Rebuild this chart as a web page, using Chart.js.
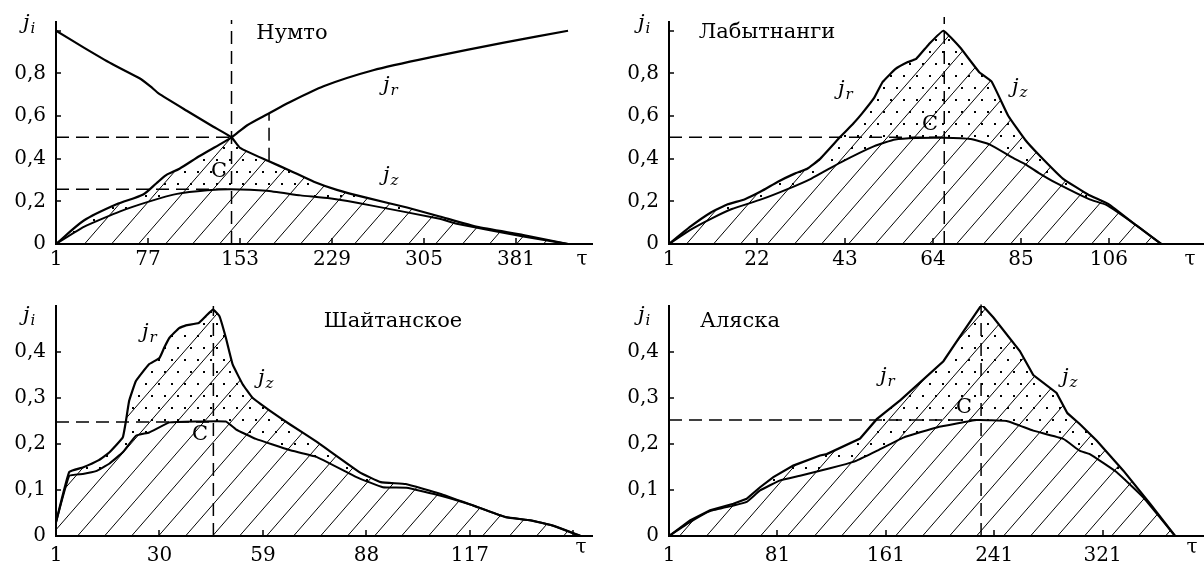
<!DOCTYPE html>
<html>
<head>
<meta charset="utf-8">
<script src="https://cdn.jsdelivr.net/npm/chart.js@4/dist/chart.umd.min.js"></script>
<style>
  body { margin: 0; background: #fff; }
  #wrap { position: relative; width: 1204px; height: 568px; }
  #wrap canvas { position: absolute; }
</style>
</head>
<body>
<div id="wrap">
  <canvas id="numto" width="602" height="284" style="left:0;top:0"></canvas>
  <canvas id="labyt" width="602" height="284" style="left:602px;top:0"></canvas>
  <canvas id="shait" width="602" height="284" style="left:0;top:284px"></canvas>
  <canvas id="alaska" width="602" height="284" style="left:602px;top:284px"></canvas>
</div>
<script>
//Нумто
var numtoTauR = [1, 24, 51, 73, 84, 92, 103, 120, 136, 146, 159, 176, 194, 222, 263, 310, 371, 424];
var numtoJr = [0, 0.11, 0.186, 0.232, 0.285, 0.323, 0.353, 0.414, 0.466, 0.5, 0.557, 0.61, 0.665, 0.74, 0.815, 0.875, 0.944, 1.0];
var numtoTauZ = [1, 24, 47, 70, 79, 86, 109, 131, 146, 153, 176, 194, 214, 233, 258, 291, 318, 349, 387, 424];
var numtoJz = [1.0, 0.921, 0.845, 0.777, 0.739, 0.705, 0.625, 0.55, 0.5, 0.451, 0.39, 0.345, 0.292, 0.254, 0.216, 0.171, 0.129, 0.08, 0.042, 0];
var numtoTauMin = [1, 24, 51, 73, 84, 92, 103, 120, 136, 146, 153, 176, 194, 214, 233, 258, 291, 318, 349, 387, 424];
var numtoJmin = [0, 0.11, 0.186, 0.232, 0.285, 0.323, 0.353, 0.414, 0.466, 0.5, 0.451, 0.39, 0.345, 0.292, 0.254, 0.216, 0.171, 0.129, 0.08, 0.042, 0];
var numtoTauC = [1, 24, 54, 79, 101, 126, 145, 175, 203, 227, 262, 318, 332, 387, 424];
var numtoJc = [0, 0.08, 0.153, 0.201, 0.235, 0.252, 0.257, 0.25, 0.228, 0.214, 0.18, 0.118, 0.095, 0.035, 0];
var numtoCross = {tau: 146, j: 0.5, jc: 0.257, tauC: 142, tauMark: 177, markLo: 0.39, markHi: 0.61};
var numtoXTicks = [1, 77, 153, 229, 305, 381];

//Лабытнанги
var labTau = [1, 6, 11, 15, 19, 23, 27, 31, 34, 37, 42, 45, 47, 50, 52, 55, 58, 60, 63, 66.5, 70.5, 75, 78, 82, 86, 89.5, 95, 101, 106, 112.5, 118.5];
var labUp = [0, 0.08, 0.148, 0.186, 0.209, 0.247, 0.292, 0.33, 0.353, 0.398, 0.505, 0.565, 0.61, 0.686, 0.76, 0.82, 0.853, 0.868, 0.936, 1.0, 0.921, 0.807, 0.762, 0.6, 0.489, 0.414, 0.307, 0.232, 0.186, 0.088, 0];
var labTauLo = [1, 6, 11, 16, 23, 29, 35, 42, 50, 55, 60, 66.5, 73, 77.6, 83, 86, 89.5, 93.5, 101.4, 105.4, 112.5, 118.5];
var labLo = [0, 0.065, 0.118, 0.164, 0.209, 0.255, 0.307, 0.383, 0.459, 0.49, 0.497, 0.498, 0.492, 0.466, 0.405, 0.375, 0.33, 0.285, 0.209, 0.183, 0.088, 0];
var labCross = {tau: 66.7, j: 0.5, top: 1.065};
var labXTicks = [1, 22, 43, 64, 85, 106];

//Шайтанское
var shTau = [1, 4.7, 8.5, 13, 16, 19.7, 20.6, 21.5, 23.4, 27, 30, 31.3, 32.8, 35.5, 37.4, 41, 43, 45, 46.8, 48.6, 50.5, 53.3, 56, 61, 66.5, 74, 86, 92, 99, 108.6, 118, 127, 134, 140, 148];
var shUp = [0.03, 0.139, 0.149, 0.165, 0.182, 0.214, 0.25, 0.294, 0.337, 0.373, 0.387, 0.409, 0.431, 0.452, 0.458, 0.463, 0.478, 0.492, 0.478, 0.431, 0.373, 0.33, 0.301, 0.272, 0.243, 0.205, 0.139, 0.117, 0.113, 0.092, 0.066, 0.041, 0.034, 0.023, 0];
var shTauLo = [1, 4.7, 8.5, 12.2, 15.9, 19.7, 23.4, 27.1, 32.8, 40.2, 48.6, 51.4, 57, 66.4, 74, 85.2, 92.6, 99.2, 108.6, 118, 127, 134, 140, 148];
var shLo = [0.03, 0.131, 0.135, 0.141, 0.157, 0.182, 0.218, 0.225, 0.247, 0.249, 0.249, 0.232, 0.211, 0.187, 0.172, 0.128, 0.106, 0.105, 0.088, 0.066, 0.041, 0.034, 0.023, 0];
var shCross = {tau: 45.1, j: 0.248, top: 0.5};
var shXTicks = [1, 30, 59, 88, 117, 146];

//Аляска
var alTau = [1, 16.5, 31.3, 48.5, 58.3, 68.2, 78, 92.7, 112.4, 117.4, 142, 154.3, 172, 203.5, 218.3, 231.8, 240.4, 259.9, 269.8, 287, 295, 304.3, 316.7, 336.3, 356, 374.5];
var alUp = [0, 0.034, 0.056, 0.07, 0.081, 0.106, 0.128, 0.153, 0.175, 0.178, 0.212, 0.254, 0.296, 0.38, 0.445, 0.503, 0.475, 0.402, 0.35, 0.311, 0.267, 0.243, 0.207, 0.142, 0.07, 0];
var alTauLo = [1, 16.5, 31.3, 48.5, 58.3, 68.2, 83, 97.7, 112.4, 127.2, 139.5, 154.3, 174, 198.6, 228.1, 250.2, 269.8, 292, 304.3, 311.5, 331.2, 350.9, 374.5];
var alLo = [0, 0.03, 0.054, 0.066, 0.074, 0.099, 0.121, 0.131, 0.142, 0.153, 0.164, 0.185, 0.214, 0.236, 0.252, 0.25, 0.229, 0.211, 0.185, 0.178, 0.139, 0.084, 0];
var alCross = {tau: 231.3, j: 0.252, top: 0.503};
var alXTicks = [1, 81, 161, 241, 321];

var yTicksBig = [0, 0.2, 0.4, 0.6, 0.8, 1.0];
var yTicksSmall = [0, 0.1, 0.2, 0.3, 0.4];

Chart.defaults.font.family = '"DejaVu Serif", serif';
Chart.defaults.color = '#000';

//Fill patterns
function makeHatch() {
  var w = 27, h = 31;
  var c = document.createElement('canvas');
  c.width = w; c.height = h;
  var g = c.getContext('2d');
  g.strokeStyle = '#000';
  g.lineWidth = 1;
  for (var k = -1; k <= 1; k++) {
    g.beginPath();
    g.moveTo(0, h + k * h);
    g.lineTo(w, k * h);
    g.stroke();
  }
  return g.createPattern(c, 'repeat');
}

function makeDots() {
  var c = document.createElement('canvas');
  c.width = 13; c.height = 24;
  var g = c.getContext('2d');
  g.fillStyle = '#000';
  g.fillRect(2, 3, 2, 2);
  g.fillRect(8, 15, 2, 2);
  return g.createPattern(c, 'repeat');
}

var hatch = makeHatch();
var dots = makeDots();

function pts(xs, ys) {
  return xs.map(function(x, i) { return {x: x, y: ys[i]}; });
}

function solid(data, width, extra) {
  var ds = {data: data, borderColor: '#000', borderWidth: width, pointRadius: 0, tension: 0.15, fill: false};
  for (var k in extra) ds[k] = extra[k];
  return ds;
}

function dashed(xs, ys) {
  return {data: pts(xs, ys), borderColor: '#000', borderWidth: 1.5, borderDash: [13, 7], pointRadius: 0, tension: 0, fill: false, clip: false};
}

//Inward tick marks
var tickMarks = {
  id: 'tickMarks',
  afterDraw: function(chart) {
    var ctx = chart.ctx, a = chart.chartArea;
    var xs = chart.scales.x, ys = chart.scales.y;
    ctx.save();
    ctx.strokeStyle = '#000';
    ctx.lineWidth = 1.5;
    xs.ticks.forEach(function(t) {
      var px = Math.round(xs.getPixelForValue(t.value));
      ctx.beginPath(); ctx.moveTo(px, a.bottom); ctx.lineTo(px, a.bottom - 6); ctx.stroke();
    });
    ys.ticks.forEach(function(t) {
      var py = Math.round(ys.getPixelForValue(t.value));
      ctx.beginPath(); ctx.moveTo(a.left, py); ctx.lineTo(a.left + 5, py); ctx.stroke();
    });
    ctx.restore();
  }
};

function drawSub(ctx, x, y, main, sub) {
  ctx.font = 'italic 21px "DejaVu Serif", serif';
  ctx.textAlign = 'left';
  ctx.textBaseline = 'alphabetic';
  ctx.fillText(main, x, y);
  var w = ctx.measureText(main).width;
  ctx.font = 'italic 15px "DejaVu Serif", serif';
  ctx.fillText(sub, x + w + 1, y + 4);
}

//Titles and letters
var notes = {
  id: 'notes',
  afterDraw: function(chart, args, o) {
    var ctx = chart.ctx;
    ctx.save();
    ctx.fillStyle = '#000';
    ctx.textAlign = 'center';
    ctx.textBaseline = 'middle';
    ctx.font = '21px "DejaVu Serif", serif';
    ctx.fillText(o.title[0], o.title[1], o.title[2]);
    ctx.fillText('C', o.c[0], o.c[1]);
    ctx.font = '20px "DejaVu Serif", serif';
    ctx.fillText('τ', o.tau[0], o.tau[1]);
    drawSub(ctx, o.ji[0], o.ji[1], 'j', 'i');
    drawSub(ctx, o.jr[0], o.jr[1], 'j', 'r');
    drawSub(ctx, o.jz[0], o.jz[1], 'j', 'z');
    ctx.restore();
  }
};

function comma(v) {
  return String(v).replace('.', ',');
}

function makeChart(id, datasets, p) {
  var ctx = document.getElementById(id).getContext('2d');
  return new Chart(ctx, {
    type: 'line',
    data: {datasets: datasets},
    plugins: [tickMarks, notes],
    options: {
      responsive: false,
      animation: false,
      events: [],
      layout: {padding: {top: p.top, right: p.right, left: 0, bottom: 0}},
      plugins: {legend: {display: false}, tooltip: {enabled: false}, notes: p.notes},
      scales: {
        x: {
          type: 'linear', min: 1, max: p.xMax,
          afterBuildTicks: function(s) { s.ticks = p.xTicks.map(function(v) { return {value: v}; }); },
          afterFit: function(s) { s.height = p.bottom; },
          grid: {display: false, drawTicks: false},
          border: {display: true, color: '#000', width: 2},
          ticks: {
            color: '#000', font: {size: 20}, padding: p.xPad, maxRotation: 0, autoSkip: false,
            callback: function(v) { return v === p.xHide ? '' : comma(v); }
          }
        },
        y: {
          type: 'linear', min: 0, max: p.yMax,
          afterBuildTicks: function(s) { s.ticks = p.yTicks.map(function(v) { return {value: v}; }); },
          afterFit: function(s) { s.width = p.left; },
          grid: {display: false, drawTicks: false},
          border: {display: true, color: '#000', width: 2},
          ticks: {
            color: '#000', font: {size: 20}, padding: 10, autoSkip: false,
            callback: function(v) { return v === 1 ? '' : comma(v); }
          }
        }
      }
    }
  });
}

//Нумто
makeChart('numto', [
  solid(pts(numtoTauMin, numtoJmin), 0, {borderColor: 'rgba(0,0,0,0)', fill: 'origin', backgroundColor: hatch}),
  solid(pts(numtoTauC, numtoJc), 2, {fill: 0, backgroundColor: dots}),
  solid(pts(numtoTauR, numtoJr), 2.2, {tension: 0.25}),
  solid(pts(numtoTauZ, numtoJz), 2.2),
  dashed([1, numtoCross.tau], [numtoCross.j, numtoCross.j]),
  dashed([1, numtoCross.tauC], [numtoCross.jc, numtoCross.jc]),
  dashed([numtoCross.tau, numtoCross.tau], [0, 1.05]),
  dashed([numtoCross.tauMark, numtoCross.tauMark], [numtoCross.markLo, numtoCross.markHi])
], {
  left: 56, top: 15, right: 10, bottom: 40, xPad: 4, yMax: 1.041, xMax: 443.8,
  xTicks: numtoXTicks, yTicks: yTicksBig,
  notes: {title: ['Нумто', 292, 34], c: [219, 172], tau: [582, 260], ji: [23, 29], jr: [383, 91], jz: [383, 181]}
});

//Лабытнанги
makeChart('labyt', [
  solid(pts(labTau, labUp), 2.2, {fill: 'origin', backgroundColor: hatch, tension: 0.1}),
  solid(pts(labTauLo, labLo), 2, {fill: 0, backgroundColor: dots}),
  dashed([1, labCross.tau], [labCross.j, labCross.j]),
  dashed([labCross.tau, labCross.tau], [0, labCross.top])
], {
  left: 67, top: 15, right: 0, bottom: 40, xPad: 4, yMax: 1.041, xMax: 128.7,
  xTicks: labXTicks, yTicks: yTicksBig,
  notes: {title: ['Лабытнанги', 165, 33], c: [328, 125], tau: [588, 260], ji: [36, 29], jr: [236, 95], jz: [410, 93]}
});

//Шайтанское
makeChart('shait', [
  solid(pts(shTau, shUp), 2.2, {fill: 'origin', backgroundColor: hatch, tension: 0.1}),
  solid(pts(shTauLo, shLo), 2, {fill: 0, backgroundColor: dots, tension: 0.1}),
  dashed([1, shCross.tau], [shCross.j, shCross.j]),
  dashed([shCross.tau, shCross.tau], [0, shCross.top])
], {
  left: 56, top: 21, right: 10, bottom: 32, xPad: 8, yMax: 0.5, xMax: 151.2,
  xTicks: shXTicks, xHide: 146, yTicks: yTicksSmall,
  notes: {title: ['Шайтанское', 393, 38], c: [200, 151], tau: [581, 264], ji: [23, 37], jr: [142, 54], jz: [258, 100]}
});

//Аляска
makeChart('alaska', [
  solid(pts(alTau, alUp), 2.2, {fill: 'origin', backgroundColor: hatch, tension: 0}),
  solid(pts(alTauLo, alLo), 2, {fill: 0, backgroundColor: dots, tension: 0.1}),
  dashed([1, alCross.tau], [alCross.j, alCross.j]),
  dashed([alCross.tau, alCross.tau], [0, alCross.top])
], {
  left: 67, top: 21, right: 0, bottom: 32, xPad: 8, yMax: 0.5, xMax: 395.8,
  xTicks: alXTicks, yTicks: yTicksSmall,
  notes: {title: ['Аляска', 138, 38], c: [362, 124], tau: [590, 264], ji: [36, 37], jr: [278, 98], jz: [460, 99]}
});
</script>
</body>
</html>
